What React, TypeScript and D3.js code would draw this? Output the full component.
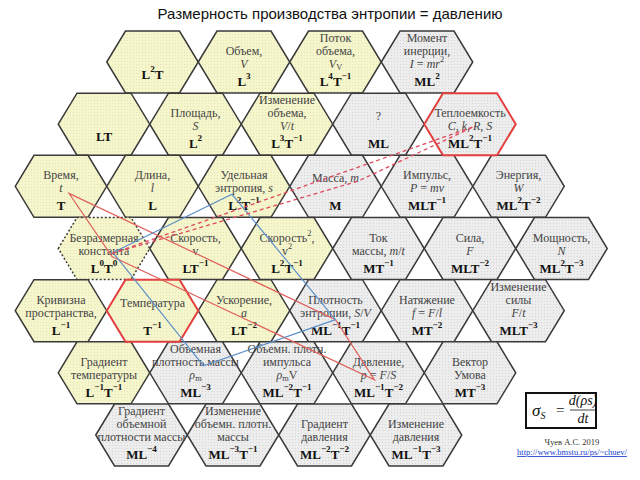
import React from "react";
import * as d3 from "d3";

// ---------- data ----------
const title = "Размерность производства энтропии = давлению";

type Cell = { id: string; name: string[]; dim: string; kind: "y" | "g" };

const row1: Cell[] = [
  { id: "l2t", name: [], dim: "L2T", kind: "y" },
  { id: "volume", name: ["Объем,", "*V*"], dim: "L3", kind: "y" },
  { id: "volFlow", name: ["Поток", "объема,", "*V*_{V}"], dim: "L4T-1", kind: "y" },
  { id: "inertia", name: ["Момент", "инерции,", "*I* = *mr*^{2}"], dim: "ML2", kind: "g" },
];
const row2: Cell[] = [
  { id: "lt", name: [], dim: "LT", kind: "y" },
  { id: "area", name: ["Площадь,", "*S*"], dim: "L2", kind: "y" },
  { id: "volChange", name: ["Изменение", "объема,", "*V*/*t*"], dim: "L3T-1", kind: "y" },
  { id: "unknown", name: ["?"], dim: "ML", kind: "g" },
  { id: "heatCap", name: ["Теплоемкость", "*C*, *k*, *R*, *S*"], dim: "ML2T-1", kind: "g" },
];
const row3: Cell[] = [
  { id: "time", name: ["Время,", "*t*"], dim: "T", kind: "y" },
  { id: "length", name: ["Длина,", "*l*"], dim: "L", kind: "y" },
  { id: "specEntropy", name: ["Удельная", "энтропия, *s*"], dim: "L2T-1", kind: "y" },
  { id: "mass", name: ["Масса, *m*"], dim: "M", kind: "g" },
  { id: "momentum", name: ["Импульс,", "*P* = *mv*"], dim: "MLT-1", kind: "g" },
  { id: "energy", name: ["Энергия,", "*W*"], dim: "ML2T-2", kind: "g" },
];
const row4: Cell[] = [
  { id: "const", name: ["Безразмерная", "константа"], dim: "L0T0", kind: "y" },
  { id: "speed", name: ["Скорость,", "v"], dim: "LT-1", kind: "y" },
  { id: "speed2", name: ["Скорость^{2},", "v^{2}"], dim: "L2T-1", kind: "y" },
  { id: "massFlow", name: ["Ток", "массы, *m*/*t*"], dim: "MT-1", kind: "g" },
  { id: "force", name: ["Сила,", "*F*"], dim: "MLT-2", kind: "g" },
  { id: "power", name: ["Мощность,", "*N*"], dim: "ML2T-3", kind: "g" },
];
const row5: Cell[] = [
  { id: "curv", name: ["Кривизна", "пространства,"], dim: "L-1", kind: "y" },
  { id: "temp", name: ["Температура"], dim: "T-1", kind: "y" },
  { id: "accel", name: ["Ускорение,", "*a*"], dim: "LT-2", kind: "y" },
  { id: "entropyDensity", name: ["Плотность", "энтропии, *S*/*V*"], dim: "ML-1T-1", kind: "g" },
  { id: "tension", name: ["Натяжение", "*f* = *F*/*l*"], dim: "MT-2", kind: "g" },
  { id: "forceChange", name: ["Изменение", "силы", "*F*/*t*"], dim: "MLT-3", kind: "g" },
];
const row6: Cell[] = [
  { id: "tempGrad", name: ["Градиент", "температуры"], dim: "L-1T-1", kind: "y" },
  { id: "volDensity", name: ["Объемная", "плотность массы", "*ρ*_{m}"], dim: "ML-3", kind: "g" },
  { id: "momDensity", name: ["Объемн. плотн.", "импульса", "*ρ*_{m}V"], dim: "ML-2T-1", kind: "g" },
  { id: "pressure", name: ["Давление,", "*p* = *F*/*S*"], dim: "ML-1T-2", kind: "g" },
  { id: "umov", name: ["Вектор", "Умова"], dim: "MT-3", kind: "g" },
];
const row7: Cell[] = [
  { id: "densGrad", name: ["Градиент", "объемной", "плотности массы"], dim: "ML-4", kind: "g" },
  { id: "densChange", name: ["Изменение", "объемн. плотн.", "массы"], dim: "ML-3T-1", kind: "g" },
  { id: "pressGrad", name: ["Градиент", "давления"], dim: "ML-2T-2", kind: "g" },
  { id: "pressChange", name: ["Изменение", "давления"], dim: "ML-1T-3", kind: "g" },
];
const rows = [row1, row2, row3, row4, row5, row6, row7];

const redOutlined = ["heatCap", "temp"];
const dottedOutlined = ["const"];

// links: [cellId, anchor dx, anchor dy]
const redSolidLink: [string, number, number][] = [
  ["time", 8, 7], ["entropyDensity", 0, 9], ["pressure", -4, 7], ["const", 8, 8],
];
const blueLink: [string, number, number][] = [
  ["const", 9, 4], ["specEntropy", -12, 8], ["entropyDensity", 0, 9], ["volDensity", 8, -7],
];
const dashedLinks: [string, number, number][][] = [
  [["const", 8, 5], ["mass", 22, -5], ["heatCap", 5, 2]],
  [["const", 8, 5], ["heatCap", 5, 2]],
];

const author = "Чуев А.С. 2019";
const url = "http://www.bmstu.ru/ps/~chuev/";

// ---------- layout ----------
const W = 640, H = 480;
const HW = 45.75, TW = 27, HH = 31;
const rowX0 = [61, 104, 61, 104, 61, 104, 50];
const rowStartCol = [1, 0, 0, 0, 0, 0, 1];
const yScale = d3.scaleLinear().domain([0, 6]).range([62, 435]);
const colStep = 91.5;

const serif = "Liberation Serif, Times New Roman, serif";
const sans = "Liberation Sans, Arial, sans-serif";

type Seg = { text: string; italic: boolean; shift: "" | "sup" | "sub" };
function parseRich(s: string): Seg[] {
  const out: Seg[] = [];
  let italic = false;
  let buf = "";
  const flush = (shift: Seg["shift"] = "") => {
    if (buf) out.push({ text: buf, italic, shift });
    buf = "";
  };
  let i = 0;
  while (i < s.length) {
    const c = s[i];
    if (c === "*") { flush(); italic = !italic; i++; continue; }
    if ((c === "^" || c === "_") && s[i + 1] === "{") {
      flush();
      const end = s.indexOf("}", i);
      buf = s.slice(i + 2, end);
      flush(c === "^" ? "sup" : "sub");
      i = end + 1;
      continue;
    }
    buf += c; i++;
  }
  flush();
  return out;
}
const dimToRich = (d: string) => d.replace(/(-?\d)/g, (m) => `^{${m.replace("-", "−")}}`);

function Rich({ x, y, src, size, bold, fill, family }: { x: number; y: number; src: string; size: number; bold?: boolean; fill: string; family?: string }) {
  const segs = parseRich(src);
  let cur = 0;
  return (
    <text x={x} y={y} textAnchor="middle" dominantBaseline="central"
      style={{ fontFamily: family || serif, fontSize: size, fontWeight: bold ? 700 : 400 }} fill={fill}>
      {segs.map((s, i) => {
        const target = s.shift === "sup" ? -size * 0.38 : s.shift === "sub" ? size * 0.25 : 0;
        const dy = target - cur;
        cur = target;
        return (
          <tspan key={i} dy={dy} style={{ fontStyle: s.italic ? "italic" : "normal", fontSize: s.shift ? size * 0.7 : size }}>
            {s.text}
          </tspan>
        );
      })}
    </text>
  );
}

export default function App() {
  const positioned = rows.flatMap((row, r) =>
    row.map((c, i) => ({ ...c, cx: rowX0[r] + (rowStartCol[r] + i) * colStep, cy: yScale(r) }))
  );
  const byId = new Map(positioned.map((p) => [p.id, p]));
  const hexPts = (cx: number, cy: number): [number, number][] => [
    [cx - HW, cy], [cx - TW, cy - HH], [cx + TW, cy - HH], [cx + HW, cy], [cx + TW, cy + HH], [cx - TW, cy + HH],
  ];
  const closed = d3.line().curve(d3.curveLinearClosed);
  const open = d3.line();
  const pts = (link: [string, number, number][]) =>
    link.map(([id, dx, dy]) => { const c = byId.get(id)!; return [c.cx + dx, c.cy + dy] as [number, number]; });

  const ordered = [...positioned].sort((a, b) => (redOutlined.includes(a.id) ? 1 : 0) - (redOutlined.includes(b.id) ? 1 : 0));

  return (
    <svg width={W} height={H} style={{ position: "absolute", left: 0, top: 0, background: "#fff" }}>
      <defs>
        <pattern id="py" width={3} height={3} patternUnits="userSpaceOnUse">
          <rect width={3} height={3} fill="#f6f6cc" />
          <rect x={1} y={1} width={1} height={1} fill="#e4e4b6" />
        </pattern>
        <pattern id="pg" width={3} height={3} patternUnits="userSpaceOnUse">
          <rect width={3} height={3} fill="#ededed" />
          <rect x={1} y={1} width={1} height={1} fill="#d5d5d5" />
        </pattern>
      </defs>
      <rect width={W} height={H} fill="#fff" />
      <text x={330} y={19} textAnchor="middle" style={{ fontFamily: sans, fontSize: 15 }} fill="#111">{title}</text>

      {ordered.map((c) => {
        const red = redOutlined.includes(c.id);
        const dotted = dottedOutlined.includes(c.id);
        return (
          <path key={c.id} d={closed(hexPts(c.cx, c.cy))!} fill={c.kind === "y" ? "url(#py)" : "url(#pg)"}
            stroke={red ? "#e2403f" : "#3a3a3a"} strokeWidth={red ? 2 : 1.5}
            strokeDasharray={dotted ? "2,2" : undefined} strokeLinejoin="miter" />
        );
      })}

      {positioned.map((c) => {
        const n = c.name.length;
        const lh = 13;
        const first = n === 1 ? c.cy - 8 : c.cy + 2 - (n - 1) * lh;
        const dimY = n === 0 ? c.cy + 12 : c.cy + 19;
        return (
          <g key={"t" + c.id}>
            {c.name.map((ln, k) => (
              <Rich key={k} x={c.cx} y={first + k * lh} src={ln} size={12} fill="#444" />
            ))}
            <Rich x={c.cx} y={dimY} src={dimToRich(c.dim)} size={13} bold fill="#111" />
          </g>
        );
      })}

      <path d={closed(pts(redSolidLink))!} fill="none" stroke="#e0605a" strokeWidth={1.2} />
      <path d={closed(pts(blueLink))!} fill="none" stroke="#5a8fc8" strokeWidth={1.2} />
      {dashedLinks.map((l, i) => (
        <path key={i} d={open(pts(l))!} fill="none" stroke="#e04a5e" strokeWidth={1.3} strokeDasharray="4,3" />
      ))}

      <g>
        <rect x={526} y={393} width={70} height={35} fill="#fff" stroke="#111" strokeWidth={2} />
        <text x={532} y={416} style={{ fontFamily: serif, fontSize: 17, fontStyle: "italic" }} fill="#111">σ
          <tspan dy={3} style={{ fontSize: 10 }}>S</tspan>
        </text>
        <text x={556} y={415} style={{ fontFamily: serif, fontSize: 15 }} fill="#111">=</text>
        <text x={583} y={405} textAnchor="middle" style={{ fontFamily: serif, fontSize: 14, fontStyle: "italic" }} fill="#111">d(ρs)</text>
        <line x1={570} x2={596} y1={410} y2={410} stroke="#111" strokeWidth={0.8} />
        <text x={583} y={423} textAnchor="middle" style={{ fontFamily: serif, fontSize: 14, fontStyle: "italic" }} fill="#111">dt</text>
        <text x={572} y={445} textAnchor="middle" style={{ fontFamily: serif, fontSize: 8.5 }} fill="#333">{author}</text>
        <text x={572} y={455} textAnchor="middle" style={{ fontFamily: serif, fontSize: 8.5, textDecoration: "underline" }} fill="#1a3fd0">{url}</text>
      </g>
    </svg>
  );
}
